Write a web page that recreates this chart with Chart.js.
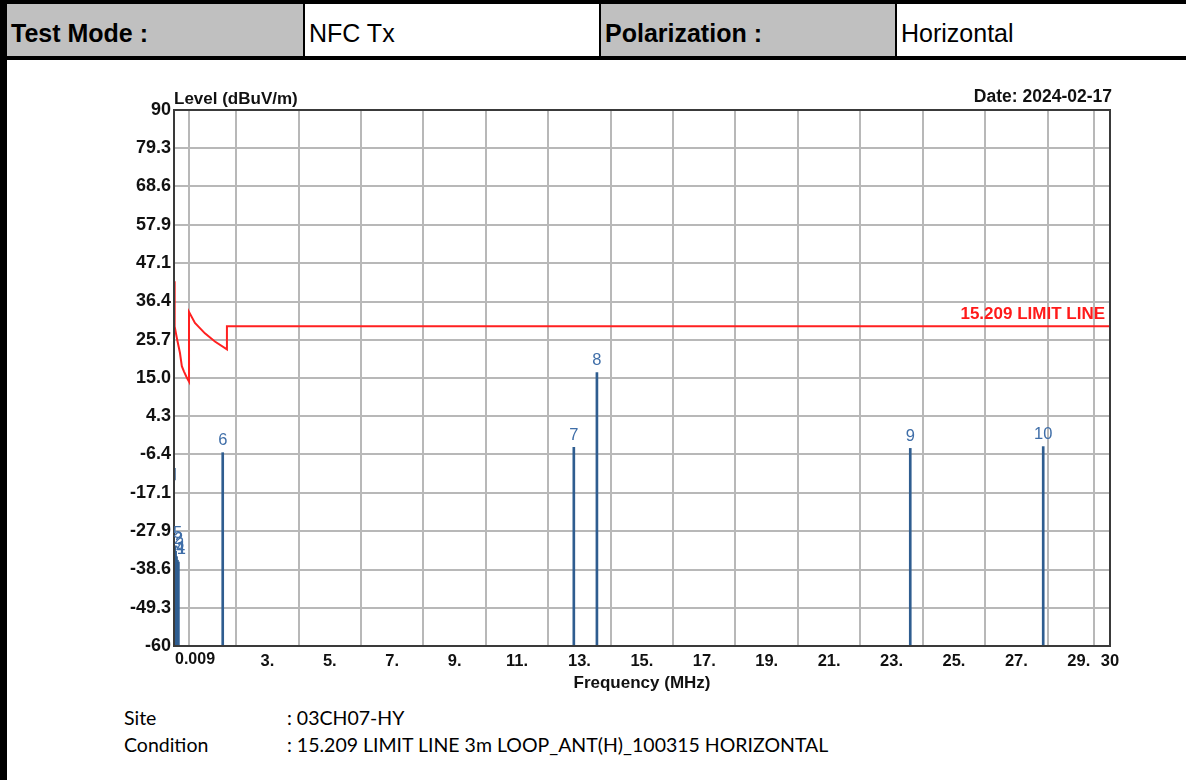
<!DOCTYPE html>
<html>
<head>
<meta charset="utf-8">
<script src="https://cdn.jsdelivr.net/npm/chart.js@4.4.1/dist/chart.umd.min.js"></script>
<style>
  html, body { margin:0; padding:0; background:#fff; width:1186px; height:780px; overflow:hidden; font-family:"Liberation Sans", Arial, sans-serif; }
  #leftbar { position:absolute; left:0; top:0; width:7px; height:780px; background:#000; z-index:3; }
  #hdr { position:absolute; left:0; top:0; width:1186px; height:60px; background:#000; z-index:2; }
  .cell { position:absolute; top:4px; height:52px; line-height:58px; font-size:25px; padding-left:4px; box-sizing:border-box; color:#000; white-space:nowrap; overflow:hidden; }
  .gray { background:#c0c0c0; font-weight:bold; }
  .white { background:#fff; }
  #chartbox { position:absolute; left:8px; top:60px; width:1178px; height:650px; z-index:1; }
  .foot { position:absolute; font-family:"Lato","Open Sans",sans-serif; font-size:19.5px; color:#000; white-space:nowrap; }
</style>
</head>
<body>
<div id="hdr">
  <div class="cell gray"  style="left:7px;   width:296px;">Test Mode :</div>
  <div class="cell white" style="left:305px; width:294px;">NFC Tx</div>
  <div class="cell gray"  style="left:601px; width:294px;">Polarization :</div>
  <div class="cell white" style="left:897px; width:289px;">Horizontal</div>
</div>
<div id="leftbar"></div>
<div id="chartbox"><canvas id="c" width="1178" height="650"></canvas></div>
<div class="foot" style="left:124px; top:706px;">Site</div>
<div class="foot" style="left:287px; top:706px;">: 03CH07-HY</div>
<div class="foot" style="left:124px; top:733px;">Condition</div>
<div class="foot" style="left:287px; top:733px;">: 15.209 LIMIT LINE 3m LOOP_ANT(H)_100315 HORIZONTAL</div>

<script>
// ---------------- data ----------------
const yTickLabels = ["90","79.3","68.6","57.9","47.1","36.4","25.7","15.0","4.3","-6.4","-17.1","-27.9","-38.6","-49.3","-60"];
const xGridValues = [0.009, 1, 3, 5, 7, 9, 11, 13, 15, 17, 19, 21, 23, 25, 27, 29, 30];
const xTickLabels = ["0.009", "", "3.", "5.", "7.", "9.", "11.", "13.", "15.", "17.", "19.", "21.", "23.", "25.", "27.", "29.", "30"];

// limit line (15.209)
const limitFreqs  = [0.009, 0.03, 0.06, 0.1, 0.2, 0.26, 0.33, 0.41, 0.49, 0.49, 0.68, 1.0, 1.32, 1.705, 1.705, 30];
const limitLevels = [42.1, 29.4, 28.0, 26.2, 22.0, 18.3, 16.8, 15.3, 14.0, 33.5, 30.4, 27.5, 25.2, 23.0, 29.5, 29.5];

// markers
const markerNumbers = ["5", "2", "3", "4", "1", "6", "7", "8", "9", "10"];
const markerFreqs   = [0.03, 0.06, 0.09, 0.12, 0.15, 1.57, 12.82, 13.56, 23.6, 27.86];
const markerLevels  = [-32.0, -33.5, -35.0, -36.0, -36.5, -5.9, -4.4, 16.5, -4.7, -4.2];

// small trace fragment at start of band
const spikeFreqs  = [0.03, 0.03];
const spikeLevels = [-10.2, -13.6];

const yMin = -60, yMax = 90, xMin = 0.009, xMax = 30;
const dateText = "Date: 2024-02-17";
const yTitle = "Level (dBuV/m)";
const xTitle = "Frequency (MHz)";
const limitLabel = "15.209 LIMIT LINE";

// ---------------- chart ----------------
const FAM = '"Liberation Sans", Arial, sans-serif';
const textPlugin = {
  id: 'texts',
  afterDraw(chart) {
    const {ctx, chartArea: a, scales: {x, y}} = chart;
    ctx.save();
    // plot frame
    ctx.strokeStyle = '#3a3a3a';
    ctx.lineWidth = 2;
    ctx.strokeRect(a.left, a.top, a.right - a.left, a.bottom - a.top);
    // y title & date
    ctx.font = 'bold 17px ' + FAM;
    ctx.fillStyle = '#111';
    ctx.textBaseline = 'bottom';
    ctx.textAlign = 'left';
    ctx.fillText(yTitle, a.left, a.top - 2);
    ctx.textAlign = 'right';
    ctx.font = 'bold 17.5px ' + FAM;
    ctx.fillText(dateText, a.right + 2, a.top - 4);
    // first x tick label, left aligned at axis start
    ctx.font = 'bold 16px ' + FAM;
    ctx.textAlign = 'left';
    ctx.textBaseline = 'top';
    ctx.fillText(xTickLabels[0], x.getPixelForValue(xMin) + 1, a.bottom + 6);
    // limit label
    ctx.font = 'bold 17px ' + FAM;
    ctx.fillStyle = '#ff1a1a';
    ctx.textAlign = 'right';
    ctx.textBaseline = 'bottom';
    ctx.fillText(limitLabel, a.right - 5, y.getPixelForValue(limitLevels[limitLevels.length - 1]) - 3);
    // marker numbers
    ctx.font = '16.5px ' + FAM;
    ctx.fillStyle = '#3f6ea8';
    ctx.textAlign = 'center';
    ctx.textBaseline = 'bottom';
    markerNumbers.forEach((n, i) => {
      ctx.fillText(n, x.getPixelForValue(markerFreqs[i]) + (i < 5 ? 3 : 0), y.getPixelForValue(markerLevels[i]) - 4);
    });
    ctx.restore();
  }
};

new Chart(document.getElementById('c'), {
  type: 'line',
  data: {
    datasets: [
      {
        type: 'line',
        label: 'Limit',
        data: limitFreqs.map((f, i) => ({x: f, y: limitLevels[i]})),
        borderColor: '#ff2020',
        borderWidth: 2,
        pointRadius: 0,
        tension: 0,
        order: 1
      },
      {
        type: 'bar',
        label: 'Markers',
        data: markerFreqs.map((f, i) => ({x: f, y: [yMin, markerLevels[i]]})),
        backgroundColor: '#2f5d90',
        borderWidth: 0,
        barThickness: 2,
        order: 2
      },
      {
        type: 'line',
        label: 'Trace',
        data: spikeFreqs.map((f, i) => ({x: f, y: spikeLevels[i]})),
        borderColor: '#1f4f85',
        borderWidth: 2,
        pointRadius: 0,
        order: 3
      }
    ]
  },
  options: {
    responsive: false,
    animation: false,
    devicePixelRatio: 1,
    layout: { padding: { top: 50, right: 76, bottom: 0, left: 0 } },
    plugins: { legend: { display: false }, tooltip: { enabled: false } },
    scales: {
      x: {
        type: 'linear',
        min: xMin, max: xMax,
        offset: false,
        afterBuildTicks: s => { s.ticks = xGridValues.map(v => ({value: v})); },
        afterFit: s => { s.height = 64; },
        grid: { color: '#b8b8b8', lineWidth: 2, drawTicks: false },
        border: { display: false },
        ticks: {
          autoSkip: false, maxRotation: 0, minRotation: 0, padding: 6,
          color: '#111',
          font: { family: FAM, size: 16.5, weight: 'bold' },
          callback: (v, i) => (i === 0 ? '' : xTickLabels[i])
        },
        title: {
          display: true, text: xTitle, color: '#111',
          font: { family: FAM, size: 17, weight: 'bold' },
          padding: { top: 0, bottom: 16 }
        }
      },
      y: {
        type: 'linear',
        min: yMin, max: yMax,
        afterBuildTicks: s => { s.ticks = yTickLabels.map(l => ({value: parseFloat(l)})).sort((a, b) => a.value - b.value); },
        afterFit: s => { s.width = 166; },
        grid: { color: '#b8b8b8', lineWidth: 2, drawTicks: false },
        border: { display: false },
        ticks: {
          autoSkip: false, padding: 3,
          color: '#111',
          font: { family: FAM, size: 18, weight: 'bold' },
          callback: v => yTickLabels.find(l => Math.abs(parseFloat(l) - v) < 1e-6)
        }
      }
    }
  },
  plugins: [textPlugin]
});
</script>
</body>
</html>
